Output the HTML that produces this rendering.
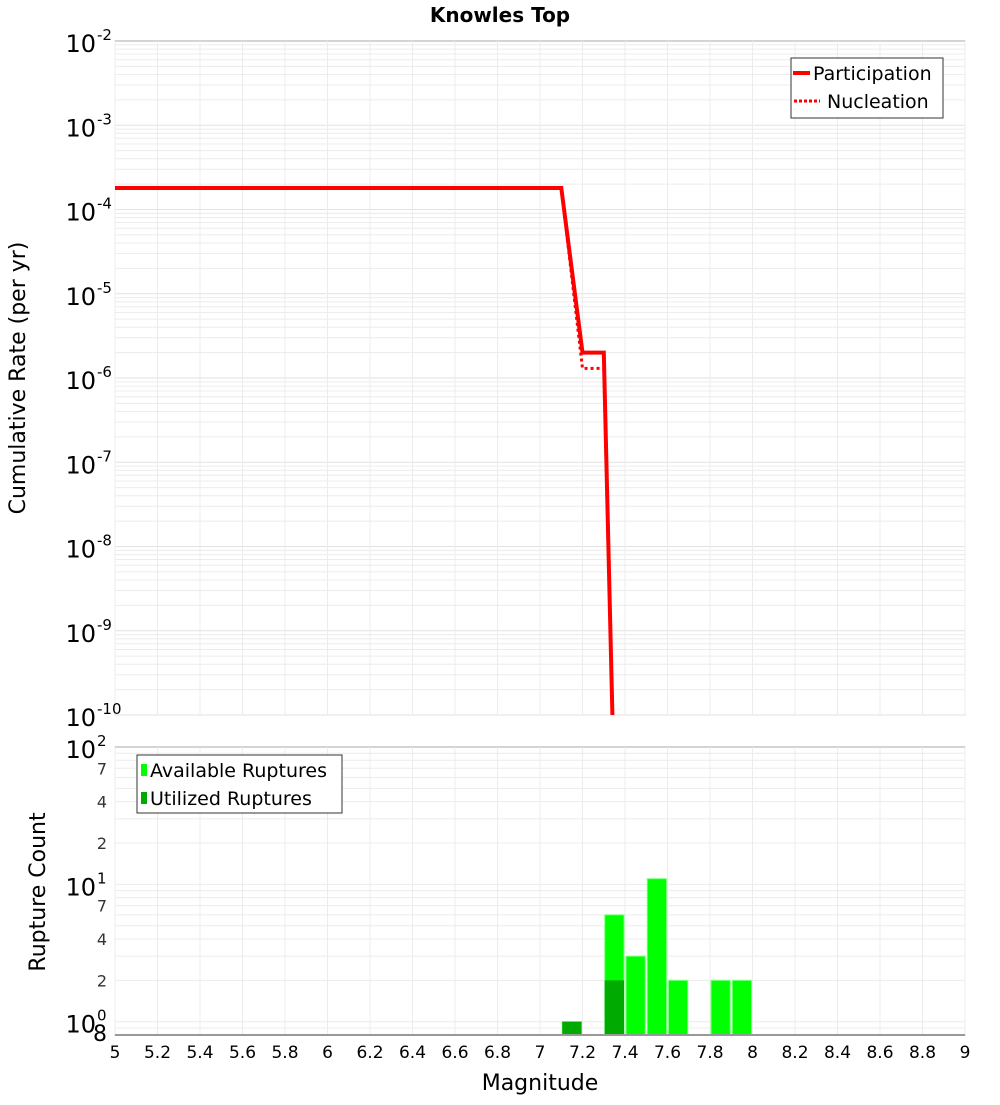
<!DOCTYPE html>
<html><head><meta charset="utf-8"><style>
body{margin:0;background:#fff;font-family:"Liberation Sans","DejaVu Sans",sans-serif;}
svg text{font-family:"DejaVu Sans","Liberation Sans",sans-serif;}
</style></head><body>
<svg id="c" width="1000" height="1100" xmlns="http://www.w3.org/2000/svg">
<text x="500" y="22" text-anchor="middle" font-size="20" font-weight="bold">Knowles Top</text>
<text transform="translate(25,378) rotate(-90)" text-anchor="middle" font-size="22">Cumulative Rate (per yr)</text>
<text transform="translate(45,892) rotate(-90)" text-anchor="middle" font-size="22">Rupture Count</text>
<text x="540" y="1090" text-anchor="middle" font-size="22">Magnitude</text>
<g id="g"></g>
</svg>
<script>
const magX = [5, 7.1, 7.2, 7.3, 7.35];
const participation = [1.8e-4, 1.8e-4, 2e-6, 2e-6, 1e-11];
const nucleation = [1.8e-4, 1.8e-4, 1.3e-6, 1.3e-6, 1e-11];
const binCenters = [7.15, 7.35, 7.45, 7.55, 7.65, 7.85, 7.95];
const available = [1, 6, 3, 11, 2, 2, 2];
const utilized = [1, 2, 0, 0, 0, 0, 0];
const xTicks = [5,5.2,5.4,5.6,5.8,6,6.2,6.4,6.6,6.8,7,7.2,7.4,7.6,7.8,8,8.2,8.4,8.6,8.8,9];

const NS="http://www.w3.org/2000/svg", g=document.getElementById('g');
function mk(t,a,p){const e=document.createElementNS(NS,t);for(const k in a)e.setAttribute(k,a[k]);(p||g).appendChild(e);return e;}
const L=115,R=965,T1=41,B1=715,T2=747,B2=1035;
const x=m=>L+(m-5)/4*(R-L);
const y1=v=>T1+(-2-Math.log10(v))/8*(B1-T1);
const lo2=Math.log10(0.8);
const y2=v=>T2+(2-Math.log10(v))/(2-lo2)*(B2-T2);

// panels
mk('rect',{x:L,y:T1,width:R-L,height:B1-T1,fill:'#fff',stroke:'#aaa'});
mk('rect',{x:L,y:T2,width:R-L,height:B2-T2,fill:'#fff',stroke:'#aaa'});
// grid top
for(let e=-10;e<-2;e++)for(let k=1;k<10;k++){const yy=y1(k*Math.pow(10,e));const l=mk('line',{x1:L,x2:R,y1:yy,y2:yy,stroke:k==1?'#e2e2e2':'#ececec','stroke-width':1});}
// grid bottom
for(let e=-1;e<2;e++)for(let k=1;k<10;k++){const v=k*Math.pow(10,e);if(v<0.8)continue;const yy=y2(v);mk('line',{x1:L,x2:R,y1:yy,y2:yy,stroke:'#ececec'});}
xTicks.forEach(t=>{const xx=x(t);mk('line',{x1:xx,x2:xx,y1:T1,y2:B1,stroke:'#ececec'});mk('line',{x1:xx,x2:xx,y1:T2,y2:B2,stroke:'#ececec'});
 const tx=mk('text',{x:xx,y:1058,'text-anchor':'middle','font-size':17});tx.textContent=t;
 
 });
// top y labels
for(let e=-10;e<=-2;e++){const yy=y1(Math.pow(10,e));const t=mk('text',{x:96,y:yy+11,'text-anchor':'end','font-size':24});t.textContent='10';
 
 
 const s=mk('text',{x:97,y:yy-1,'font-size':15});s.textContent=e;}
// bottom y labels
[[100,'2'],[10,'1'],[1,'0']].forEach(([v,s])=>{const yy=y2(v);const t=mk('text',{x:96,y:yy+11,'text-anchor':'end','font-size':24});t.textContent='10';
 
 
 const u=mk('text',{x:97,y:yy-1,'font-size':15});u.textContent=s;});
[[70,'7'],[40,'4'],[20,'2'],[7,'7'],[4,'4'],[2,'2'],[0.8,'8']].forEach(([v,s])=>{const yy=y2(v);const t=mk('text',{x:107,y:yy+6,'text-anchor':'end','font-size':v==0.8?22:16,fill:v==0.8?'#000':'#333'});t.textContent=s;});
// lines
const clip=mk('clipPath',{id:'cp'});mk('rect',{x:L,y:T1,width:R-L,height:B1-T1},clip);
function path(vals){return magX.map((m,i)=>(i?'L':'M')+x(m).toFixed(1)+' '+y1(vals[i]).toFixed(1)).join(' ');}
const pn=mk('path',{d:path(nucleation),fill:'none',stroke:'#f00','stroke-width':3,'stroke-dasharray':'3,3','clip-path':'url(#cp)'});


const pp=mk('path',{d:path(participation),fill:'none',stroke:'#f00','stroke-width':4,'clip-path':'url(#cp)'});


// bars
binCenters.forEach((c,i)=>{const x0=x(c-0.05)+1,w=x(c+0.05)-x(c-0.05)-2;
 if(available[i]>0){const r=mk('rect',{x:x0,y:y2(available[i]),width:w,height:B2-y2(available[i]),fill:'#00ff00',stroke:'#7fff7f','stroke-width':1});
  
  }
 if(utilized[i]>0){const r=mk('rect',{x:x0,y:y2(utilized[i]),width:w,height:B2-y2(utilized[i]),fill:'#00aa00'});
  
  }
});
mk('line',{x1:L,x2:R,y1:B2,y2:B2,stroke:'#999','stroke-width':2});
// legends
const lg1=mk('g',{});
mk('rect',{x:791,y:58,width:152,height:60,fill:'#fff',stroke:'#333'},lg1);
mk('line',{x1:793,x2:810,y1:73,y2:73,stroke:'#f00','stroke-width':4},lg1);
mk('line',{x1:794,x2:820,y1:101,y2:101,stroke:'#f00','stroke-width':3,'stroke-dasharray':'3,2'},lg1);
let t=mk('text',{x:813,y:80,'font-size':19},lg1);t.textContent='Participation';
t=mk('text',{x:827,y:108,'font-size':19},lg1);t.textContent='Nucleation';
const lg2=mk('g',{});
mk('rect',{x:137,y:755,width:205,height:58,fill:'#fff',stroke:'#333'},lg2);
mk('rect',{x:141,y:764,width:6,height:12,fill:'#00ff00'},lg2);
mk('rect',{x:141,y:792,width:6,height:12,fill:'#00aa00'},lg2);
t=mk('text',{x:150,y:777,'font-size':19},lg2);t.textContent='Available Ruptures';
t=mk('text',{x:150,y:805,'font-size':19},lg2);t.textContent='Utilized Ruptures';
</script>
</body></html>
